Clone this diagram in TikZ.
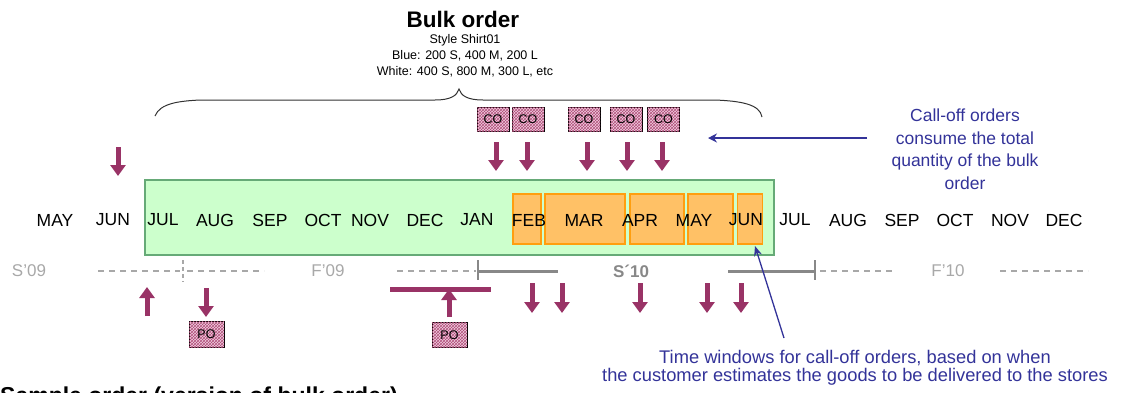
\documentclass[tikz,border=0pt]{standalone}
\usepackage{fontspec}
\setmainfont{Liberation Sans}
\usetikzlibrary{arrows.meta,patterns}
\definecolor{mag}{HTML}{993366}
\definecolor{bluetx}{HTML}{333399}
\definecolor{greenfill}{HTML}{CCFFCC}
\definecolor{greenline}{HTML}{66AA77}
\definecolor{orfill}{HTML}{FFC166}
\definecolor{orline}{HTML}{FF9E0F}
\definecolor{pinkbg}{HTML}{F2CCE0}
\definecolor{pinkmesh}{HTML}{B0507A}
\definecolor{greyA}{HTML}{888888}
\definecolor{greyB}{HTML}{A8A8A8}
\tikzset{
  month/.style={font=\fontsize{17.5}{17.5}\selectfont, inner sep=0pt},
  season/.style={font=\fontsize{17}{17}\selectfont, text=greyB, inner sep=0pt},
  orderbox/.style={draw=black, line width=1pt, minimum width=32pt, minimum height=24pt,
     inner sep=0pt, font=\fontsize{12.5}{12.5}\selectfont, fill=pinkbg,
     postaction={pattern=crosshatch, pattern color=pinkmesh}},
  marr/.style={draw=mag, line width=5pt, -{Triangle[width=15pt,length=11pt]}},
  dashline/.style={draw=greyB, line width=1.3pt, dash pattern=on 6pt off 5pt},
  solidgrey/.style={draw=greyA, line width=3pt},
  bluetext/.style={text=bluetx, font=\fontsize{17.5}{22.5}\selectfont, align=center, inner sep=0pt},
}
\begin{document}
\begin{tikzpicture}[x=1pt,y=-1pt]
\useasboundingbox (0,0) rectangle (1124,392);
\clip (0,0) rectangle (1124,392);

% title block
\node[font=\bfseries\fontsize{22.5}{22.5}\selectfont, inner sep=0pt] (bulk) at (463,19) {Bulk order};
\node[font=\fontsize{12.5}{16}\selectfont, align=center, inner sep=0pt] (spec) at (465,56)
  {Style Shirt01\\Blue: 200 S, 400 M, 200 L\\White: 400 S, 800 M, 300 L, etc};

% brace
\draw[line width=1pt, black!80] (155,116) .. controls (160,103) and (180,101) .. (200,100)
  -- (435,100) .. controls (450,100) and (457,96) .. (459,89)
  .. controls (461,96) and (468,100) .. (483,100)
  -- (715,100) .. controls (740,101) and (760,104) .. (762,117);

% green bulk window
\node[draw=greenline, line width=1.6pt, fill=greenfill, minimum width=629pt, minimum height=75pt,
      inner sep=0pt] (window) at (459.5,217.5) {};

% orange call-off windows
\node[draw=orline, fill=orfill, line width=1.2pt, minimum width=28pt, minimum height=50pt, inner sep=0pt] (wfeb) at (527,219) {};
\node[draw=orline, fill=orfill, line width=1.2pt, minimum width=80pt, minimum height=50pt, inner sep=0pt] (wmar) at (585,219) {};
\node[draw=orline, fill=orfill, line width=1.2pt, minimum width=54pt, minimum height=50pt, inner sep=0pt] (wapr) at (657,219) {};
\node[draw=orline, fill=orfill, line width=1.2pt, minimum width=45pt, minimum height=50pt, inner sep=0pt] (wmay) at (710.5,219) {};
\node[draw=orline, fill=orfill, line width=1.2pt, minimum width=25pt, minimum height=50pt, inner sep=0pt] (wjun) at (750,219) {};

% months
\node[month] (m1) at (55,220) {MAY};
\node[month] (m2) at (113,220) {JUN};
\node[month] (m3) at (163,220) {JUL};
\node[month] (m4) at (215,220) {AUG};
\node[month] (m5) at (270,220) {SEP};
\node[month] (m6) at (323,220) {OCT};
\node[month] (m7) at (370,220) {NOV};
\node[month] (m8) at (425,220) {DEC};
\node[month] (m9) at (477,220) {JAN};
\node[month] (m10) at (529,220) {FEB};
\node[month] (m11) at (584,220) {MAR};
\node[month] (m12) at (640,220) {APR};
\node[month] (m13) at (694,220) {MAY};
\node[month] (m14) at (746,220) {JUN};
\node[month] (m15) at (795,220) {JUL};
\node[month] (m16) at (848,220) {AUG};
\node[month] (m17) at (902,220) {SEP};
\node[month] (m18) at (955,220) {OCT};
\node[month] (m19) at (1010,220) {NOV};
\node[month] (m20) at (1064,220) {DEC};

% seasons
\node[season] (s09) at (29,271) {S'09};
\node[season] (f09) at (328,271) {F'09};
\node[season, font=\bfseries\fontsize{17}{17}\selectfont, text=greyA] (s10) at (631,271) {S´10};
\node[season] (f10) at (948,271) {F'10};

\coordinate (d1a) at (98,271);  \coordinate (d1b) at (180,271);
\coordinate (t1a) at (183,260); \coordinate (t1b) at (183,282);
\coordinate (d2a) at (187,271); \coordinate (d2b) at (264,271);
\coordinate (d3a) at (397,271); \coordinate (d3b) at (476,271);
\coordinate (t2a) at (478,260); \coordinate (t2b) at (478,280);
\coordinate (g1b) at (558,271);
\coordinate (g2a) at (728,271);
\coordinate (t3a) at (815,260); \coordinate (t3b) at (815,280);
\coordinate (d4a) at (820,271); \coordinate (d4b) at (895,271);
\coordinate (d5a) at (1000,271); \coordinate (d5b) at (1088,271);

\draw[dashline] (d1a) -- (d1b);
\draw[draw=greyB, line width=1.3pt, dash pattern=on 4pt off 3pt] (t1a) -- (t1b);
\draw[dashline] (d2a) -- (d2b);
\draw[dashline] (d3a) -- (d3b);
\draw[solidgrey] (t2a |- d3a) -- (g1b);
\draw[draw=greyA, line width=2pt] (t2a) -- (t2b);
\draw[solidgrey] (g2a) -- (t3a |- g2a);
\draw[draw=greyA, line width=2pt] (t3a) -- (t3b);
\draw[dashline] (d4a) -- (d4b);
\draw[dashline] (d5a) -- (d5b);

% call-off order boxes
\node[orderbox] (co1) at (493,119.5) {CO};
\node[orderbox] (co2) at (528,119.5) {CO};
\node[orderbox] (co3) at (584,119.5) {CO};
\node[orderbox] (co4) at (626,119.5) {CO};
\node[orderbox] (co5) at (663.5,119.5) {CO};

\foreach \i/\x in {1/496,2/527,3/587,4/627,5/662}{
  \coordinate (ca\i) at (\x,142);
  \coordinate (cb\i) at (\x,171);
  \draw[marr] (ca\i) -- (cb\i);
}

% JUN arrow
\coordinate (ja) at (118,147); \coordinate (jb) at (118,176);
\draw[marr] (ja) -- (jb);

% bottom row arrows
\foreach \i/\x in {1/532,2/562,3/640,4/707,5/741}{
  \coordinate (ba\i) at (\x,283);
  \coordinate (bb\i) at (\x,313);
  \draw[marr] (ba\i) -- (bb\i);
}

% purchase orders
\node[orderbox, minimum width=35pt, minimum height=26pt] (po1) at (206.5,334) {PO};
\node[orderbox, minimum width=35pt, minimum height=25pt] (po2) at (449.5,335) {PO};

\coordinate (u1a) at (147,316); \coordinate (u1b) at (147,287);
\draw[marr] (u1a) -- (u1b);
\coordinate (p1a) at (206,288); \coordinate (p1b) at (206,317);
\draw[marr] (p1a) -- (p1b);
\coordinate (bar1) at (390,289); \coordinate (bar2) at (491,289);
\draw[draw=mag, line width=5pt] (bar1) -- (bar2);
\coordinate (u2a) at (449,317);
\draw[marr] (u2a) -- (u2a |- bar1);

% blue annotations
\node[bluetext] (cotext) at (965,149) {Call-off orders\\consume the total\\quantity of the bulk\\order};
\coordinate (barrS) at (867,138); \coordinate (barrE) at (708,138);
\draw[draw=bluetx, line width=2.5pt, -{Stealth[width=9pt,length=9pt]}] (barrS) -- (barrE);

\node[bluetext, font=\fontsize{18.3}{18.5}\selectfont] (twtext) at (855,368) {Time windows for call-off orders, based on when\\the customer estimates the goods to be delivered to the stores};
\coordinate (tws) at (784,338); \coordinate (twe) at (755,246);
\draw[draw=bluetx, line width=1.3pt, -{Stealth[width=8pt,length=10pt]}] (tws) -- (twe);

% heading cut off at the bottom edge, as in the reference
\node[font=\bfseries\fontsize{23}{23}\selectfont, anchor=north west, inner sep=0pt] (bottomhead) at (0,387) {Sample order (version of bulk order)};
\end{tikzpicture}
\end{document}
